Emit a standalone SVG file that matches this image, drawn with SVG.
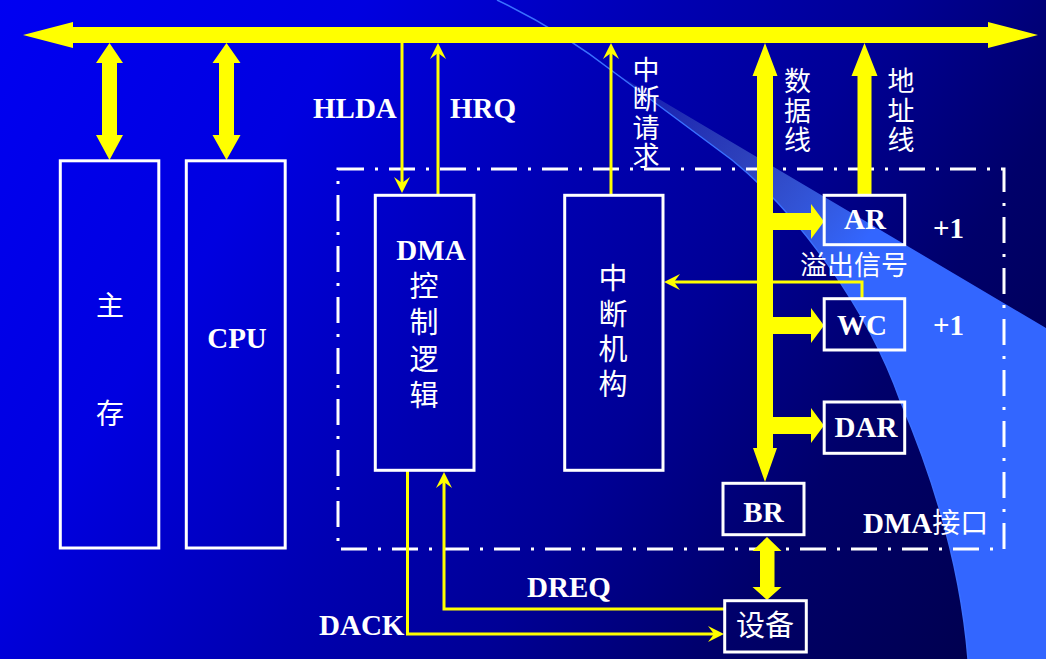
<svg xmlns="http://www.w3.org/2000/svg" width="1046" height="659" viewBox="0 0 1046 659">
<defs>
<linearGradient id="bg" gradientUnits="userSpaceOnUse" x1="0" y1="0" x2="1046" y2="659">
<stop offset="0" stop-color="#0000F2"/>
<stop offset="0.25" stop-color="#0000E0"/>
<stop offset="0.46" stop-color="#0000B2"/>
<stop offset="0.61" stop-color="#000096"/>
<stop offset="0.77" stop-color="#00006A"/>
<stop offset="1" stop-color="#000048"/>
</linearGradient>
<linearGradient id="wedge" gradientUnits="userSpaceOnUse" x1="615" y1="73" x2="850" y2="260">
<stop offset="0" stop-color="#6080c0" stop-opacity="0.15"/>
<stop offset="0.5" stop-color="#4a6ad0" stop-opacity="0.6"/>
<stop offset="1" stop-color="#3366FF" stop-opacity="1"/>
</linearGradient>
<marker id="ah" markerUnits="userSpaceOnUse" viewBox="-11 -9 18 18" markerWidth="18" markerHeight="18" refX="0" refY="0" orient="auto">
<path d="M6,0 L-10,-8 L-4,0 L-10,8 Z" fill="#FFFF00"/>
</marker>
<style>
.box{fill:none;stroke:#FFFFFF;stroke-width:3}
.bus{fill:#FFFF00}
.thin{fill:none;stroke:#FFFF00;stroke-width:3}
.lat{font-family:"Liberation Serif","Times New Roman",serif;font-weight:bold;font-size:29px;fill:#FFFFFF}
.cjk{font-family:"Noto Sans CJK SC","Noto Sans",sans-serif;font-size:28px;fill:#FFFFFF}
.vert{writing-mode:vertical-rl;text-orientation:upright}
.dash{fill:none;stroke:#FFFFFF;stroke-width:3;stroke-dasharray:26 11 3 11}
</style>
</defs>

<rect x="0" y="0" width="1046" height="659" fill="url(#bg)"/>
<path d="M615,73 L1046,328 L1046,659 L968,659 C960,560 930,470 900,400 C868,310 800,215 732,160 Z" fill="url(#wedge)"/>
<path d="M497,0 Q560,30 615,73 L732,160 C800,215 868,310 900,400 C930,470 960,560 968,659" fill="none" stroke="#3a70ff" stroke-width="1.5"/>

<rect id="interface-frame" class="dash" x="338" y="169" width="666" height="380"/>

<g id="connectors">
<polygon class="bus" points="23,35 73,22 73,27 988,27 988,22 1038,35 988,48 988,43 73,43 73,48"/>
<polygon class="bus" points="109.5,43 123,63 117,63 117,135 123,135 109.5,160 96,135 102,135 102,63 96,63"/>
<polygon class="bus" points="226.5,43 240.5,63 234,63 234,135 240.5,135 226.5,160 212.5,135 219,135 219,63 212.5,63"/>
<polygon class="bus" points="765,43 777.5,76 773,76 773,448 777,448 765,482 753,448 757,448 757,76 752.5,76"/>
<polygon class="bus" points="864.5,43 877.5,76 871.5,76 871.5,195 857.5,195 857.5,76 851.5,76"/>
<polygon class="bus" points="773,213 811,213 811,204 824,221.5 811,239 811,230 773,230"/>
<polygon class="bus" points="773,317 811,317 811,308 824,325.5 811,343 811,334 773,334"/>
<polygon class="bus" points="773,417 811,417 811,408 824,425.5 811,443 811,434 773,434"/>
<polygon class="bus" points="767,537 781.5,551 774.5,551 774.5,587 781.5,587 767,600 752.5,587 760,587 760,551 752.5,551"/>
<path class="thin" d="M402,43 L402,187" marker-end="url(#ah)"/>
<path class="thin" d="M438,195 L438,49" marker-end="url(#ah)"/>
<path class="thin" d="M611,195 L611,49" marker-end="url(#ah)"/>
<path class="thin" d="M862,298 L862,282 L670,282" marker-end="url(#ah)"/>
<path class="thin" d="M407.5,471 L407.5,634 L718,634" marker-end="url(#ah)"/>
<path class="thin" d="M724,609 L444,609 L444,478" marker-end="url(#ah)"/>
</g>

<g id="main-memory">
<rect class="box" x="60.3" y="160.8" width="98.5" height="387.2"/>
<text class="cjk vert" x="110" y="291" style="letter-spacing:80px">主存</text>
</g>
<g id="cpu">
<rect class="box" x="186.3" y="160.8" width="98.9" height="387.2"/>
<text class="lat" x="237" y="348" text-anchor="middle">CPU</text>
</g>
<g id="dma-control">
<rect class="box" x="375.3" y="195.3" width="98.7" height="275"/>
<text class="lat" x="431" y="260" text-anchor="middle">DMA</text>
<text class="cjk vert" x="424" y="271.3" style="font-size:29px;letter-spacing:7.4px">控制逻辑</text>
</g>
<g id="interrupt">
<rect class="box" x="564.7" y="195.3" width="98.3" height="275"/>
<text class="cjk vert" x="613" y="263.8" style="font-size:29px;letter-spacing:6.2px">中断机构</text>
</g>
<g id="ar">
<rect class="box" x="824.2" y="195.3" width="80.5" height="49.4"/>
<text class="lat" x="865" y="229" text-anchor="middle">AR</text>
</g>
<g id="wc">
<rect class="box" x="824.2" y="298.7" width="80.5" height="51.3"/>
<text class="lat" x="862" y="335" text-anchor="middle">WC</text>
</g>
<g id="dar">
<rect class="box" x="824.2" y="402" width="80.5" height="51.3"/>
<text class="lat" x="866" y="437" text-anchor="middle">DAR</text>
</g>
<g id="br">
<rect class="box" x="723" y="483.3" width="81" height="51.4"/>
<text class="lat" x="763.5" y="522" text-anchor="middle">BR</text>
</g>
<g id="device">
<rect class="box" x="724.7" y="600.7" width="81.6" height="51.3"/>
<text class="cjk" x="765" y="636" text-anchor="middle" style="font-size:29px">设备</text>
</g>

<g id="labels">
<text class="lat" x="313" y="118">HLDA</text>
<text class="lat" x="450" y="118">HRQ</text>
<text class="cjk vert" x="646" y="56.5" style="font-size:27px;letter-spacing:1.7px">中断请求</text>
<text class="cjk vert" x="797.5" y="67.5" style="font-size:27px;letter-spacing:2.5px">数据线</text>
<text class="cjk vert" x="901" y="67.5" style="font-size:27px;letter-spacing:2.5px">地址线</text>
<text class="lat" x="933" y="238">+1</text>
<text class="lat" x="933" y="335">+1</text>
<text class="cjk" x="800" y="275" style="font-size:27px">溢出信号</text>
<text x="863" y="533"><tspan class="lat">DMA</tspan><tspan class="cjk">接口</tspan></text>
<text class="lat" x="527" y="597">DREQ</text>
<text class="lat" x="319" y="635">DACK</text>
</g>
</svg>
